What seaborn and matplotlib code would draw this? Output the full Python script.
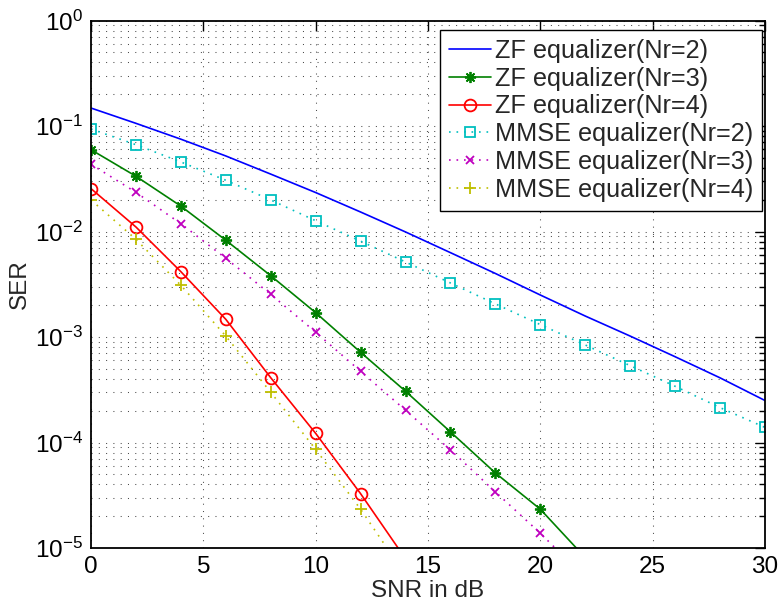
import numpy as np
import pandas as pd
import matplotlib
matplotlib.use("Agg")
import matplotlib.pyplot as plt
from matplotlib.ticker import LogLocator, NullFormatter, FixedLocator
import seaborn as sns

# SNR grid (dB)
snr = [0, 2, 4, 6, 8, 10, 12, 14, 16, 18, 20, 22, 24, 26, 28, 30]

# Symbol error rates
zf_nr2 = [0.148, 0.106, 0.075, 0.052, 0.035, 0.0234, 0.0153, 0.0099, 0.0063,
          0.0040, 0.0025, 0.00158, 0.00102, 6.5e-4, 4.1e-4, 2.5e-4]
zf_nr3 = [0.0596, 0.0334, 0.0174, 0.00826, 0.00381, 0.0017, 7.16e-4, 3.06e-4,
          1.26e-4, 5.14e-5, 2.33e-5, 8.1e-6]
zf_nr4 = [0.0255, 0.01103, 4.16e-3, 1.47e-3, 4.11e-4, 1.22e-4, 3.27e-5, 7.9e-6]
mmse_nr2 = [0.0937, 0.0665, 0.0456, 0.0306, 0.0199, 0.01265, 8.1e-3, 5.14e-3,
            3.25e-3, 2.06e-3, 1.31e-3, 8.4e-4, 5.35e-4, 3.41e-4, 2.14e-4, 1.39e-4]
mmse_nr3 = [0.0434, 0.0235, 0.01186, 5.57e-3, 2.54e-3, 1.11e-3, 4.73e-4, 2.02e-4,
            8.5e-5, 3.4e-5, 1.38e-5, 5.2e-6]
mmse_nr4 = [0.0199, 8.43e-3, 3.09e-3, 1.02e-3, 2.99e-4, 8.6e-5, 2.33e-5, 5.5e-6]

labels = ["ZF equalizer(Nr=2)", "ZF equalizer(Nr=3)", "ZF equalizer(Nr=4)",
          "MMSE equalizer(Nr=2)", "MMSE equalizer(Nr=3)", "MMSE equalizer(Nr=4)"]
series = [zf_nr2, zf_nr3, zf_nr4, mmse_nr2, mmse_nr3, mmse_nr4]

sns.set_style("white")
plt.rcParams["font.family"] = ["Liberation Sans", "DejaVu Sans"]
plt.rcParams["mathtext.fontset"] = "custom"
plt.rcParams["mathtext.rm"] = "Liberation Sans"
plt.rcParams["mathtext.it"] = "Liberation Sans:italic"
plt.rcParams["mathtext.bf"] = "Liberation Sans:bold"

dotted = (0, (1, 3.5))
styles = [
    dict(color=(0, 0, 1), linestyle="-", marker=None, ms=0),
    dict(color=(0, 0.5, 0), linestyle="-", marker=(8, 2, 0), ms=8),
    dict(color=(1, 0, 0), linestyle="-", marker="o", ms=8.5),
    dict(color=(0, 0.75, 0.75), linestyle=dotted, marker="s", ms=7),
    dict(color=(0.75, 0, 0.75), linestyle=dotted, marker="x", ms=6),
    dict(color=(0.75, 0.75, 0), linestyle=dotted, marker="+", ms=8),
]

fig = plt.figure(figsize=(7.8, 6.05), dpi=100)
ax = fig.add_axes([0.1167, 0.0942, 0.8641, 0.8719])

for lab, vals, st in zip(labels, series, styles):
    df = pd.DataFrame({"SNR": snr[:len(vals)], "SER": vals})
    kw = dict(color=st["color"], linestyle=st["linestyle"], linewidth=1.2,
              label=lab)
    if st["marker"] is not None:
        kw.update(marker=st["marker"], markersize=st["ms"],
                  markerfacecolor="none", markeredgecolor=st["color"],
                  markeredgewidth=1.3)
    sns.lineplot(data=df, x="SNR", y="SER", ax=ax, **kw)

ax.set_yscale("log")
ax.set_xlim(0, 30)
ax.set_ylim(1e-5, 1)
ax.xaxis.set_major_locator(FixedLocator([0, 5, 10, 15, 20, 25, 30]))
ax.yaxis.set_major_locator(LogLocator(base=10, numticks=10))
ax.yaxis.set_minor_locator(LogLocator(base=10, subs=np.arange(2, 10), numticks=20))
ax.yaxis.set_minor_formatter(NullFormatter())

grid_kw = dict(linestyle=(0, (1, 6)), color="0.3", linewidth=0.75)
ax.grid(True, which="major", axis="both", **grid_kw)
ax.grid(True, which="minor", axis="y", **grid_kw)

ax.tick_params(which="both", direction="in", top=True, right=True,
               labelsize=17.5, colors="black", width=1.0)
ax.tick_params(which="major", length=7, pad=6)
ax.tick_params(which="minor", length=4)
for sp in ax.spines.values():
    sp.set_visible(True)
    sp.set_color("black")
    sp.set_linewidth(1.3)

ax.set_xlabel("SNR in dB", fontsize=17.5, labelpad=1)
ax.set_ylabel("SER", fontsize=17.5, labelpad=3)

leg = ax.legend(loc="upper right", bbox_to_anchor=(0.9955, 0.982),
                fontsize=18.2, frameon=True, fancybox=False,
                edgecolor="black", framealpha=1, borderaxespad=0,
                handlelength=1.65, handletextpad=0.15, labelspacing=0.15,
                borderpad=0.35)
leg.get_frame().set_linewidth(1.0)

fig.savefig("out.png", dpi=100)
